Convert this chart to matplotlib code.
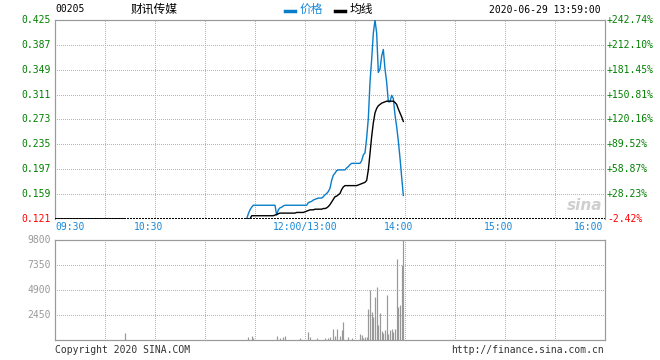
import matplotlib
matplotlib.use("Agg")
import numpy as np
import matplotlib.pyplot as plt
from matplotlib.lines import Line2D

plt.rcParams['font.family'] = ['DejaVu Sans Mono', 'Noto Sans CJK SC']

# --- data (HK 00205, 2020-06-29 intraday) ---
code = "00205"
name = "财讯传媒"
stamp = "2020-06-29 13:59:00"
prev_close = 0.124
price_ticks = [0.121, 0.159, 0.197, 0.235, 0.273, 0.311, 0.349, 0.387, 0.425]
vol_ticks = [2450, 4900, 7350, 9800]
time_labels = ["09:30", "10:30", "12:00/13:00", "14:00", "15:00", "16:00"]
time_pos = ["09:30", "10:30", "12:00", "14:00", "15:00", "16:00"]

# early flat part of the session
early_times = ["09:30", "10:12"]
early_price = [0.121, 0.121]

# minute data from 11:25 to 13:59
start_time = "11:25"
price = ([0.121, 0.129, 0.135, 0.139, 0.142] + [0.142] * 13 +
         [0.127, 0.135, 0.138, 0.139, 0.141] + [0.142] * 14 +
         [0.146, 0.147, 0.148, 0.150, 0.151, 0.152, 0.153, 0.153, 0.153,
          0.155, 0.158, 0.160, 0.163, 0.168, 0.180, 0.188, 0.191, 0.195] +
         [0.196] * 5 + [0.199, 0.201, 0.204] + [0.206] * 6 +
         [0.210, 0.219, 0.222, 0.245, 0.275, 0.330, 0.365, 0.405, 0.425,
          0.405, 0.345, 0.350, 0.370, 0.380, 0.350, 0.330, 0.300, 0.300,
          0.310, 0.305, 0.280, 0.262, 0.240, 0.214, 0.185, 0.157])
avg = ([0.121] * 3 + [0.126] * 14 + [0.127, 0.128, 0.129] + [0.130] * 10 +
       [0.131] * 5 +
       [0.132, 0.133, 0.134, 0.135, 0.135, 0.135, 0.136, 0.136, 0.136,
        0.136, 0.136, 0.137, 0.137, 0.138, 0.140, 0.143, 0.147, 0.151,
        0.155, 0.156, 0.158, 0.160, 0.166, 0.170] +
       [0.172] * 8 +
       [0.173, 0.174, 0.175, 0.176, 0.177, 0.180, 0.196, 0.221, 0.247,
        0.268, 0.283, 0.290, 0.294, 0.296, 0.298, 0.299, 0.300, 0.301,
        0.301, 0.301, 0.301, 0.301, 0.299, 0.296, 0.289, 0.283, 0.277,
        0.270])

vol_times = ["10:12", "11:26", "11:28", "11:29", "11:43", "11:45", "11:47",
             "11:48", "11:57", "13:02", "13:03", "13:07", "13:12", "13:14",
             "13:15", "13:17", "13:18", "13:19", "13:21", "13:22", "13:23",
             "13:26", "13:28", "13:33", "13:34", "13:35", "13:36", "13:37",
             "13:38", "13:39", "13:40", "13:41", "13:42", "13:43", "13:44",
             "13:45", "13:46", "13:47", "13:48", "13:49", "13:50", "13:51",
             "13:52", "13:53", "13:54", "13:55", "13:56", "13:57", "13:58",
             "13:59"]
vol = [720, 260, 400, 160, 400, 170, 260, 400, 170, 790, 330, 170, 170, 170,
       260, 1080, 390, 1080, 390, 980, 1760, 290, 200, 590, 450, 200, 260,
       330, 3040, 4900, 2740, 2290, 4250, 5160, 1470, 2680, 880, 690, 980,
       4410, 590, 980, 1080, 820, 1050, 7940, 3200, 3430, 7350, 9800]


def to_min(t):
    # HK session: 09:30-12:00 then 13:00-16:00, lunch break squeezed out
    h, m = map(int, t.split(":"))
    tot = h * 60 + m
    if tot <= 720:
        return tot - 570
    return tot - 780 + 150


m0 = to_min(start_time)
mins = np.arange(m0, m0 + len(price))

blue = '#0a7cc8'
tblue = '#1a88d8'
green = '#008000'
red = '#ff0000'
gridc = '#b4b4b4'
framec = '#9a9a9a'

fig = plt.figure(figsize=(6.6, 3.6), dpi=100)
W, H = 660, 360
ax = fig.add_axes([55 / W, 1 - 219 / H, 550 / W, 199 / H])
axv = fig.add_axes([55 / W, 1 - 340 / H, 550 / W, 100 / H])

px = 72 / 100  # one pixel in points

for a in (ax, axv):
    a.set_xlim(0, 330)
    a.set_xticks(np.arange(30, 330, 30))
    a.tick_params(length=0, labelbottom=False, labelleft=False)
    a.grid(True, color=gridc, linestyle=(0, (1, 2)), linewidth=px,
           antialiased=False)
    for s in a.spines.values():
        s.set_color(framec)
        s.set_linewidth(1.2 * px)

# price panel
ax.set_ylim(price_ticks[0], price_ticks[-1])
ax.set_yticks(price_ticks[1:-1])
ax.spines['bottom'].set_visible(False)
ax.axhline(price_ticks[0], color='black', linestyle=(0, (1, 1)),
           linewidth=1.5 * px, zorder=3, antialiased=False)
ax.plot([to_min(t) for t in early_times], early_price, color='black',
        lw=1.3, zorder=4)
ax.plot(mins, price, color=blue, lw=1.0, zorder=5)
ax.plot(mins, avg, color='black', lw=1.0, zorder=6)

for p in price_ticks:
    c = red if p == price_ticks[0] else green
    ax.annotate("%.3f" % p, xy=(0, p), xycoords=('axes fraction', 'data'),
                xytext=(-4, 0), textcoords='offset pixels', ha='right',
                va='center', color=c, fontsize=7)
    pct = (p / prev_close - 1) * 100
    lab = ("+%.2f%%" % pct) if pct >= 0 else ("%.2f%%" % pct)
    ax.annotate(lab, xy=(1, p), xycoords=('axes fraction', 'data'),
                xytext=(2, 0), textcoords='offset pixels', ha='left',
                va='center', color=c, fontsize=7)

# time labels under price panel
for lab, t in zip(time_labels, time_pos):
    m = to_min(t)
    if m == 0:
        ha, dx = 'left', 0
    elif m == 330:
        ha, dx = 'right', -2
    elif "/" in lab:
        ha, dx = 'center', 0
    else:
        ha, dx = 'center', -6
    ax.annotate(lab, xy=(m, 0), xycoords=('data', 'axes fraction'),
                xytext=(dx, -8), textcoords='offset pixels', ha=ha,
                va='center', color=tblue, fontsize=7)

# volume panel
axv.set_ylim(0, vol_ticks[-1])
axv.set_yticks(vol_ticks[:-1])
axv.vlines([to_min(t) for t in vol_times], 0, vol, color='#999999',
           linewidth=1.2 * px, zorder=4)
for v in vol_ticks:
    axv.annotate(str(v), xy=(0, v), xycoords=('axes fraction', 'data'),
                 xytext=(-4, 0), textcoords='offset pixels', ha='right',
                 va='center', color='#999999', fontsize=7)

# header
fig.text(55 / W, 1 - 9 / H, code, fontsize=7, va='center', ha='left')
fig.text(154 / W, 1 - 9 / H, name, fontsize=8.5, va='center', ha='center',
         family=['Noto Sans CJK SC'])
fig.add_artist(Line2D([285 / W, 295 / W], [1 - 11 / H, 1 - 11 / H],
                      color=blue, lw=2.5, transform=fig.transFigure))
fig.text(300 / W, 1 - 9 / H, "价格", fontsize=8.5, va='center', color=tblue,
         family=['Noto Sans CJK SC'])
fig.add_artist(Line2D([335 / W, 345 / W], [1 - 11 / H, 1 - 11 / H],
                      color='black', lw=2.5, transform=fig.transFigure))
fig.text(350 / W, 1 - 9 / H, "均线", fontsize=8.5, va='center',
         family=['Noto Sans CJK SC'])
fig.text(601 / W, 1 - 10 / H, stamp, fontsize=7, va='center', ha='right')

# footer
fig.text(55 / W, 1 - 350 / H, "Copyright 2020 SINA.COM", fontsize=7,
         va='center', ha='left', color='#333333')
fig.text(604 / W, 1 - 350 / H, "http://finance.sina.com.cn", fontsize=7,
         va='center', ha='right', color='#333333')

# watermark
ax.text(0.995, 0.03, "sina", transform=ax.transAxes, ha='right', va='bottom',
        fontsize=11, fontstyle='italic', fontweight='bold', color='#cfcfcf',
        family='DejaVu Sans', zorder=1)

fig.savefig("out.png", dpi=100)
